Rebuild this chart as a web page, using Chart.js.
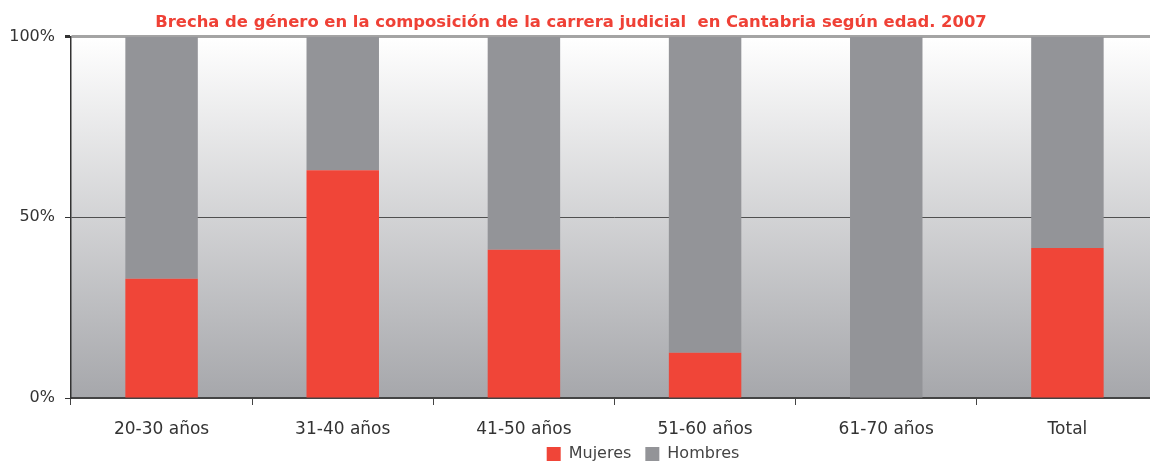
<!DOCTYPE html>
<html>
<head>
<meta charset="utf-8">
<script src="https://cdn.jsdelivr.net/npm/chart.js@4"></script>
<style>
  html, body { margin: 0; padding: 0; background: #fff; overflow: hidden; }
  #wrap { width: 1160px; height: 462px; }
</style>
</head>
<body>
<div id="wrap"><canvas id="chart"></canvas></div>
<script>
// datos (porcentaje)
let categorias = ['20-30 años', '31-40 años', '41-50 años', '51-60 años', '61-70 años', 'Total'];
let mujeres = [33, 63, 41, 12.5, 0, 41.5];
let hombres = [67, 37, 59, 87.5, 100, 58.5];
let ticksY = [0, 50, 100];

const fondo = {
    id: 'fondo',
    beforeDraw(chart) {
        let a = chart.chartArea;
        let ctx = chart.ctx;
        let g = ctx.createLinearGradient(0, a.top, 0, a.bottom);
        g.addColorStop(0, '#ffffff');
        g.addColorStop(1, '#a6a7ab');
        ctx.save();
        ctx.fillStyle = g;
        ctx.fillRect(a.left, a.top, a.right - a.left, a.bottom - a.top);
        ctx.restore();
    }
};

// la leyenda y el titulo del original no estan centrados en el lienzo
const mover = {
    id: 'mover',
    afterLayout(chart) {
        chart.legend.left += 64;
        chart.legend.right += 64;
        chart.legend.top -= 10;
        chart.titleBlock.left -= 8;
        chart.titleBlock.right -= 8;
    }
};

new Chart(document.getElementById('chart'), {
    type: 'bar',
    data: {
        labels: categorias,
        datasets: [{
            label: 'Mujeres',
            data: mujeres,
            backgroundColor: '#f04538',
            barPercentage: 0.8,
            categoryPercentage: 0.5
        }, {
            label: 'Hombres',
            data: hombres,
            backgroundColor: '#939498',
            barPercentage: 0.8,
            categoryPercentage: 0.5
        }]
    },
    plugins: [fondo, mover],
    options: {
        responsive: true,
        maintainAspectRatio: false,
        animation: false,
        layout: { padding: { left: 0, right: 2, top: 0, bottom: 0 } },
        plugins: {
            title: {
                display: true,
                text: 'Brecha de género en la composición de la carrera judicial  en Cantabria según edad. 2007',
                color: '#ef4136',
                font: { family: 'DejaVu Sans', size: 16.4, weight: 'bold' },
                padding: { top: 13, bottom: 4 }
            },
            legend: {
                position: 'bottom',
                maxHeight: 20,
                labels: {
                    boxWidth: 14,
                    boxHeight: 14,
                    color: '#444',
                    padding: 14,
                    font: { family: 'DejaVu Sans', size: 16 }
                }
            },
            tooltip: { enabled: false }
        },
        scales: {
            x: {
                stacked: true,
                border: { color: '#444', width: 2 },
                grid: { drawOnChartArea: false, color: '#444', tickLength: 7, offset: true },
                ticks: { color: '#333', padding: 14, font: { family: 'DejaVu Sans', size: 17 } },
                afterFit(scale) { scale.height = 44; }
            },
            y: {
                stacked: true,
                min: 0,
                max: 100,
                afterBuildTicks(scale) { scale.ticks = ticksY.map(v => ({ value: v })); },
                border: { color: '#333', width: 1.5 },
                grid: {
                    color: ctx => ctx.tick.value === 100 ? '#a4a4a4' : '#505050',
                    lineWidth: ctx => ctx.tick.value === 100 ? 3 : 1,
                    tickColor: '#333',
                    tickLength: 6
                },
                ticks: {
                    color: '#333',
                    padding: 10,
                    font: { family: 'DejaVu Sans', size: 16 },
                    callback: v => v + '%'
                },
                afterFit(scale) { scale.width = 71; }
            }
        }
    }
});
</script>
</body>
</html>
